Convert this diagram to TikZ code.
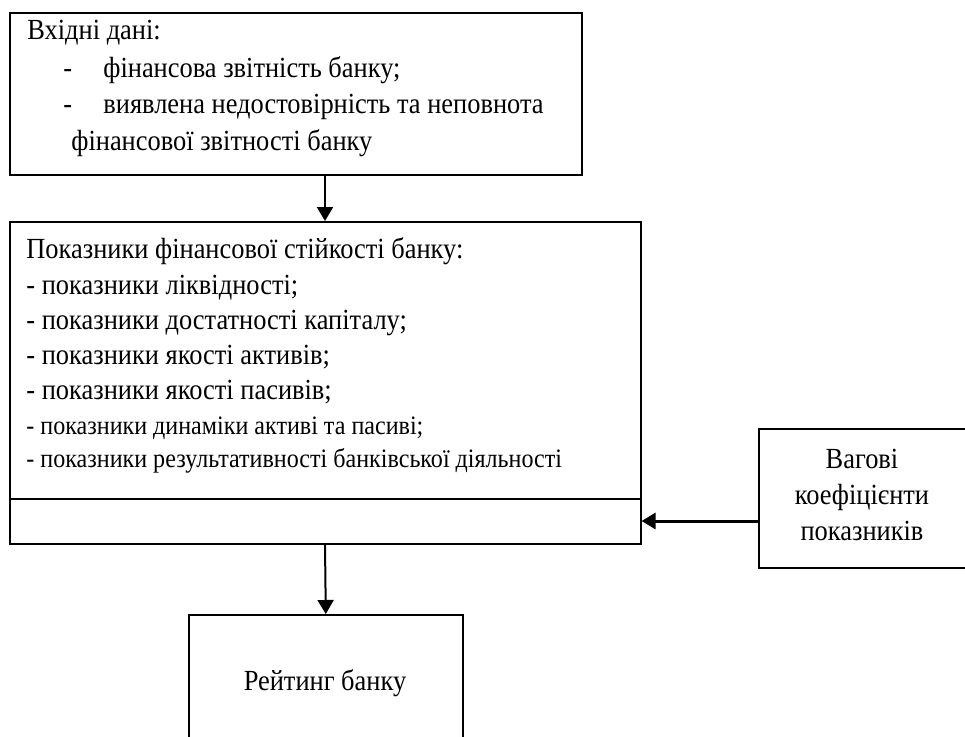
\documentclass[tikz,border=0pt]{standalone}
\usepackage{fontspec}
\setmainfont{Liberation Serif}[FakeStretch=0.905]
\usepackage{tikz}
\usetikzlibrary{arrows.meta}
\tikzstyle{block}=[draw=black,line width=0.8pt,inner sep=0pt,anchor=north west]
\tikzstyle{txt}=[inner sep=0pt,anchor=base west,font=\fontsize{14.6}{16}\selectfont]
\tikzstyle{ctxt}=[inner sep=0pt,anchor=base,font=\fontsize{14.6}{16}\selectfont]
\tikzstyle{arr}=[line width=1pt,-{Triangle[length=7pt,width=8pt]}]

\begin{document}
\begin{tikzpicture}[x=0.5pt,y=-0.5pt]
      \useasboundingbox (0,0) rectangle (965,736);

      \node[block,minimum width=286pt,minimum height=81pt] (in) at (9,12) {};
      \node[block,minimum width=315.5pt,minimum height=138.5pt] (ind) at (9,221) {};
      \node[block,minimum width=315.5pt,minimum height=22.5pt] (sum) at (9,498) {};
      \node[block,minimum width=137pt,minimum height=75pt] (rate) at (188,614) {};
      \node[block,minimum width=105pt,minimum height=69.5pt] (wt) at (758,428) {};

      \node[txt] (in0) at (27,39) {Вхідні дані:};
      \node[txt] (d1) at (63,77) {-};
      \node[txt] (in1) at (103,77) {фінансова звітність банку;};
      \node[txt] (d2) at (63,113) {-};
      \node[txt] (in2) at (103,113) {виявлена недостовірність та неповнота};
      \node[txt] (in3) at (71,150) {фінансової звітності банку};

      \node[txt] (ind0) at (26,258) {Показники фінансової стійкості банку:};
      \foreach \t [count=\i] in {ліквідності;,достатності капіталу;,якості активів;,якості пасивів;}{
        \node[txt] (ind\i) at (26,260+34.8*\i) {- показники \t};
      }
      \node[txt,font=\fontsize{13.3}{15}\selectfont] (ind5) at (26,434) {- показники динаміки активі та пасиві;};
      \node[txt,font=\fontsize{13.3}{15}\selectfont] (ind6) at (26,467) {- показники результативності банківської діяльності};

      \node[ctxt] (rt) at (325,690) {Рейтинг банку};

      \node[ctxt] (wt1) at (862,468) {Вагові};
      \node[ctxt] (wt2) at (862,504) {коефіцієнти};
      \node[ctxt] (wt3) at (862,540) {показників};

      \coordinate (a) at (325,0);
      \coordinate (w) at (700,521);
      \draw[arr] (in.south -| a) -- (ind.north -| a);
      \draw[arr] (sum.south -| a) -- (rate.north);
      \draw[arr,line width=1.5pt] (w -| wt.west) -- (w -| sum.east);
    \end{tikzpicture}
\end{document}
